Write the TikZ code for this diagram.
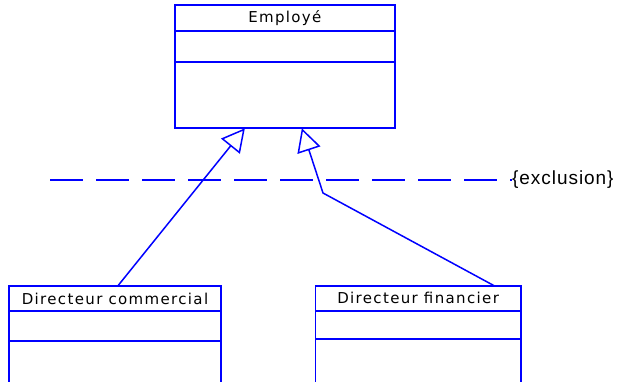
\documentclass[tikz,border=0pt]{standalone}
\usepackage{fontspec}
\setmainfont{Liberation Sans}
\newfontfamily\classfont{DejaVu Sans}
\usetikzlibrary{positioning,arrows.meta,calc}
\definecolor{umlblue}{RGB}{0,0,255}

\begin{document}
\begin{tikzpicture}[x=1pt,y=-1pt,
        classpart/.style={draw=umlblue,line width=1.8pt,rectangle,inner sep=0pt,outer sep=0pt},
        classname/.style={classpart,font=\classfont\fontsize{15}{15}\selectfont\addfontfeature{LetterSpace=9}},
        generalization/.style={draw=umlblue,line width=1.5pt,-{Triangle[open,length=23pt,width=24pt]}},
        constraint/.style={draw=umlblue,line width=1.6pt,dash pattern=on 33pt off 13pt}]
        \clip (0,0) rectangle (619,381);
        % Employe
        \node[classname,minimum width=219.7pt,minimum height=25.4pt] (emp) at (284.85,18) {Employé};
        \node[classpart,minimum width=219.7pt,minimum height=31.6pt,below=0pt of emp] (emp-att) {};
        \node[classpart,minimum width=219.7pt,minimum height=66pt,below=0pt of emp-att] (emp-op) {};
        % Directeur commercial
        \node[classname,minimum width=211.4pt,minimum height=25.6pt] (dc) at (115,298.5) {Directeur commercial};
        \node[classpart,minimum width=211.4pt,minimum height=29.4pt,below=0pt of dc] (dc-att) {};
        \node[classpart,minimum width=211.4pt,minimum height=60pt,below=0pt of dc-att] (dc-op) {};
        % Directeur financier
        \node[classname,minimum width=205.2pt,minimum height=25.3pt] (df) at (418.1,298.35) {Directeur financier};
        \node[classpart,minimum width=205.2pt,minimum height=28pt,below=0pt of df] (df-att) {};
        \node[classpart,minimum width=205.2pt,minimum height=60pt,below=0pt of df-att] (df-op) {};
        % contrainte
        \coordinate (c-start) at (50,180);
        \node[anchor=west,inner sep=0pt,font=\fontsize{19}{19}\selectfont\addfontfeature{LetterSpace=5}] (excl) at (512,180) {\{exclusion\}};
        \draw[constraint] (c-start) -- (excl.west);
        % heritage
        \coordinate (kink) at (323,193);
        \draw[generalization] ($(dc.north)+(3,0)$) -- ($(emp-op.south)+(-40,0)$);
        \draw[generalization] ($(df.north)+(76,0)$) -- (kink) -- ($(emp-op.south)+(17,0)$);
\end{tikzpicture}
\end{document}
